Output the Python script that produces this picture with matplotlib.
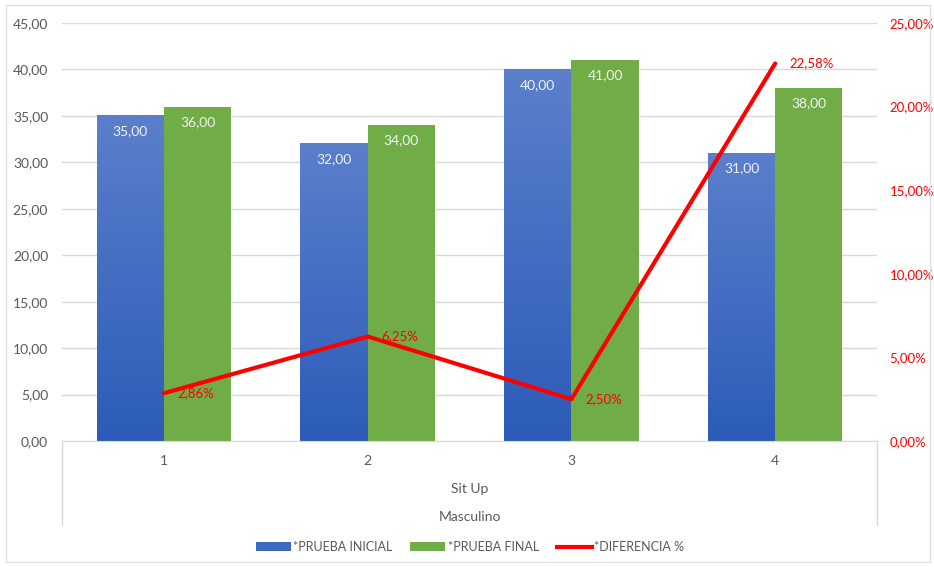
import numpy as np
import matplotlib
matplotlib.use('Agg')
import matplotlib.pyplot as plt
from matplotlib.lines import Line2D
from matplotlib.patches import Patch, Rectangle
from matplotlib.colors import LinearSegmentedColormap

plt.rcParams['font.family'] = ['Lato', 'DejaVu Sans']

# data
categorias = ['1', '2', '3', '4']
prueba_inicial = [35.0, 32.0, 40.0, 31.0]
prueba_final = [36.0, 34.0, 41.0, 38.0]
diferencia = [2.86, 6.25, 2.50, 22.58]

def coma(v, pct=False):
    s = f'{v:.2f}'.replace('.', ',')
    return s + '%' if pct else s

gris = '#595959'
azul_top = '#5B7FCB'
azul_bot = '#2C5CB8'
verde = '#70AD47'
rojo = '#FF0000'

fig = plt.figure(figsize=(9.34, 5.67), dpi=100)
ax = fig.add_axes([0.0664, 0.2222, 0.8726, 0.7372])

x = np.arange(len(categorias))
w = 0.33

# blue bars with vertical gradient
cmap = LinearSegmentedColormap.from_list('az', [azul_bot, azul_top])
grad = np.linspace(0, 1, 256).reshape(-1, 1)
bars1 = ax.bar(x - w / 2, prueba_inicial, w, color='none', zorder=2)
for b in bars1:
    x0 = b.get_x()
    h = b.get_height()
    ax.imshow(grad, extent=(x0, x0 + w, 0, h), origin='lower', cmap=cmap,
              aspect='auto', zorder=2, interpolation='bicubic')
bars2 = ax.bar(x + w / 2, prueba_final, w, color=verde, zorder=2)

ax.set_xlim(-0.5, 3.5)
ax.set_ylim(0, 45)
ax.set_yticks(np.arange(0, 46, 5))
ax.set_yticklabels([coma(v) for v in np.arange(0, 46, 5)])
ax.set_xticks(x)
ax.set_xticklabels(categorias)
ax.tick_params(axis='y', length=0, colors=gris, labelsize=10, pad=10)
ax.tick_params(axis='x', length=0, colors=gris, labelsize=10, pad=10)
ax.grid(axis='y', color='#D9D9D9', linewidth=1, zorder=0)
ax.set_axisbelow(True)
for s in ['top', 'right', 'left']:
    ax.spines[s].set_visible(False)
ax.spines['bottom'].set_color('#D9D9D9')

# data labels on bars
for xi, v in zip(x, prueba_inicial):
    ax.text(xi - w / 2, v - 1.0, coma(v), ha='center', va='top',
            color='#F2F2F2', fontsize=10, zorder=4)
for xi, v in zip(x, prueba_final):
    ax.text(xi + w / 2, v - 1.0, coma(v), ha='center', va='top',
            color='#F2F2F2', fontsize=10, zorder=4)

# secondary axis with line
ax2 = ax.twinx()
ax2.set_ylim(0, 25)
ax2.set_yticks(np.arange(0, 26, 5))
ax2.set_yticklabels([coma(v, True) for v in np.arange(0, 26, 5)])
ax2.tick_params(axis='y', length=0, colors=rojo, labelsize=9.5, pad=9)
for s in ax2.spines.values():
    s.set_visible(False)
ax2.plot(x, diferencia, color=rojo, linewidth=3, zorder=5,
         solid_capstyle='round')
for xi, v in zip(x, diferencia):
    ax2.annotate(coma(v, True), (xi, v), xytext=(10, 0),
                 textcoords='offset points', ha='left', va='center',
                 color=rojo, fontsize=9.5)

# category axis box
yb = 441 / 567
y_bot = 1 - 525 / 567
for xx in [62 / 934, 877 / 934]:
    fig.add_artist(Line2D([xx, xx], [1 - yb, y_bot], color='#D9D9D9',
                          linewidth=1, transform=fig.transFigure))
fig.text(0.5 * (62 + 877) / 934, 1 - 489 / 567, 'Sit Up', ha='center',
         va='center', color=gris, fontsize=10)
fig.text(0.5 * (62 + 877) / 934, 1 - 517 / 567, 'Masculino', ha='center',
         va='center', color=gris, fontsize=10)

# legend
handles = [Patch(facecolor='#3D68C0', label='*PRUEBA INICIAL'),
           Patch(facecolor=verde, label='*PRUEBA FINAL'),
           Line2D([0], [0], color=rojo, linewidth=3, label='*DIFERENCIA %')]
leg = fig.legend(handles=handles, loc='center', ncol=3,
                 bbox_to_anchor=(470 / 934, 1 - 547 / 567), frameon=False,
                 fontsize=9, handlelength=2.8, handleheight=0.7,
                 columnspacing=1.4, handletextpad=0.2)
for t in leg.get_texts():
    t.set_color(gris)

# outer chart border
fig.add_artist(Rectangle((6 / 934, 5 / 567), 924 / 934, 557 / 567,
                         transform=fig.transFigure, fill=False,
                         edgecolor='#E0E0E0', linewidth=1))

fig.savefig('out.png', dpi=100)
